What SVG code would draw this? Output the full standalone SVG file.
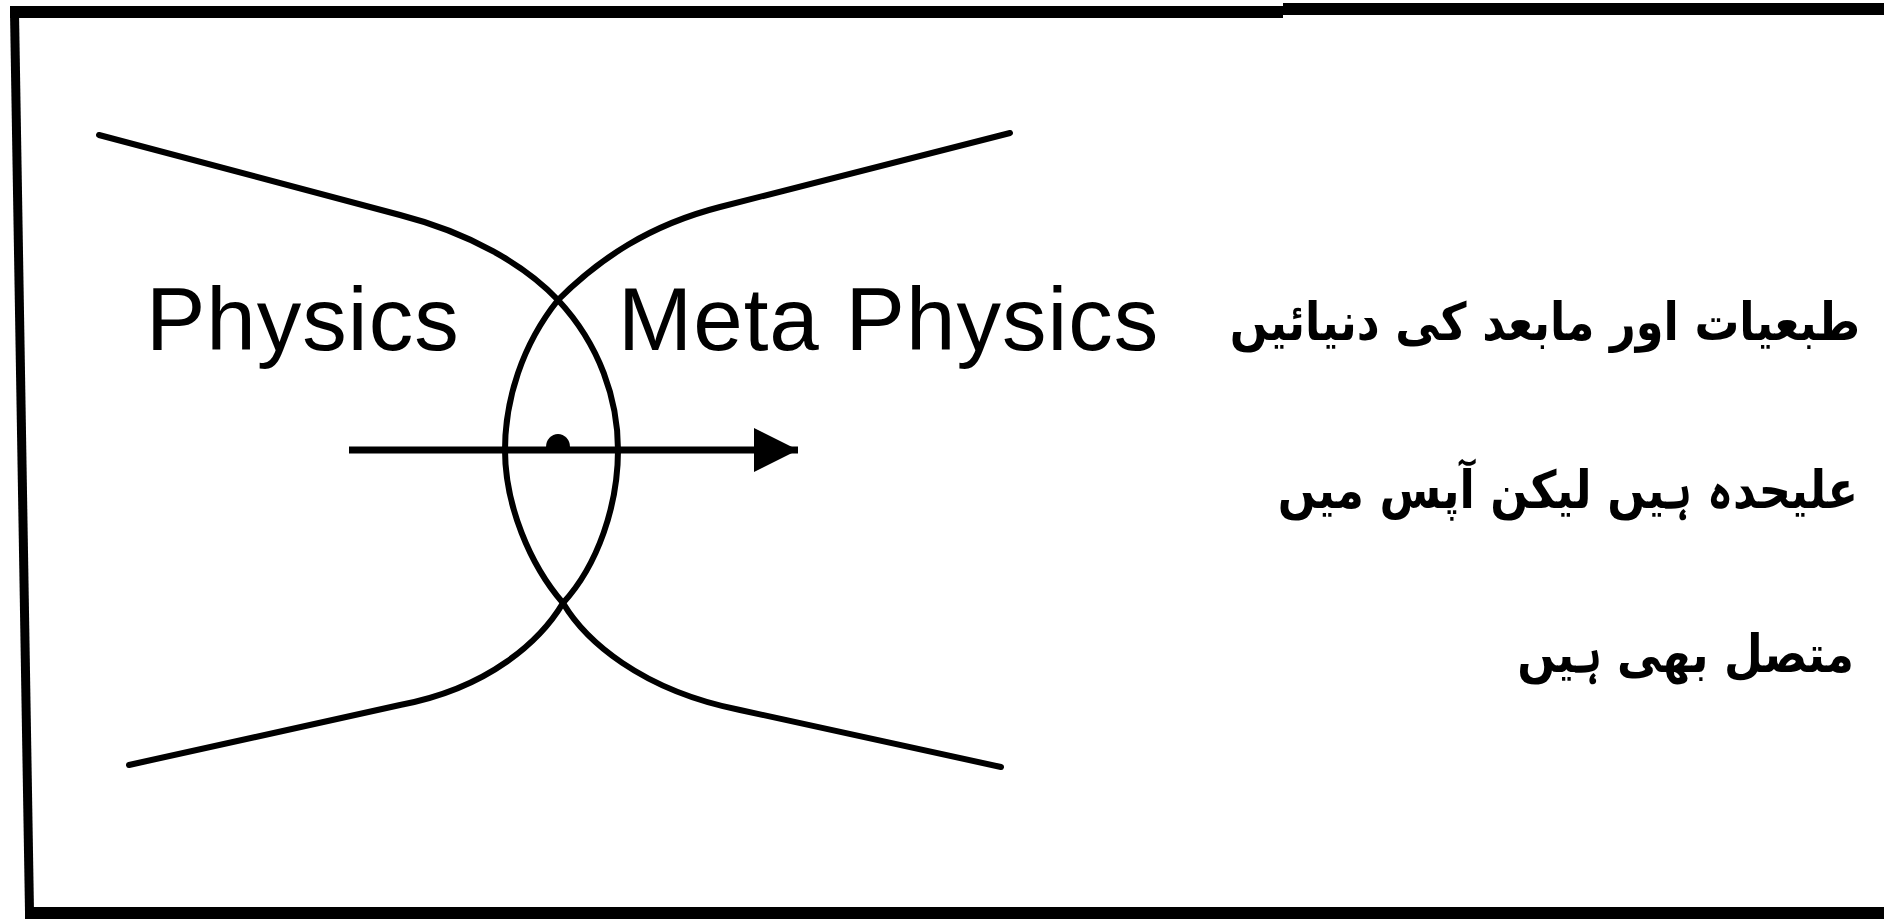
<svg xmlns="http://www.w3.org/2000/svg" width="1884" height="919" viewBox="0 0 1884 919">
  <style>
    .curve { fill: none; stroke: #000; stroke-width: 6; stroke-linecap: round; stroke-linejoin: round; }
    .arrow { fill: none; stroke: #000; stroke-width: 7; stroke-linecap: butt; }
    .lat { font-family: "Liberation Sans", Arial, sans-serif; font-size: 89px; letter-spacing: 1px; fill: #000; }
    .urdu { font-family: "DejaVu Sans", "Noto Sans", sans-serif; font-size: 52px; font-weight: bold; fill: #000; }
  </style>
  <defs>
    <marker id="head" markerUnits="userSpaceOnUse" markerWidth="46" markerHeight="44" refX="44" refY="22" orient="auto">
      <polygon points="0,0 44,22 0,44" fill="#000"/>
    </marker>
  </defs>
  <rect width="1884" height="919" fill="#fff"/>

  <g id="frame" fill="#000">
    <polygon points="10,6 1283,6 1283,3 1884,3 1884,15 1283,15 1283,18 10,18"/>
    <polygon points="10,12 19,12 34,912 25,912"/>
    <rect x="25" y="907" width="1859" height="12"/>
  </g>

  <g id="connectors">
    <path id="branch-left" class="curve" d="M 99 135 L 400 215 C 470 233, 525 265, 558 300 C 600 345, 618 400, 618 450 C 618 505, 598 565, 563 603 C 541 640, 490 688, 400 705 L 129 765"/>
    <path id="branch-right" class="curve" d="M 1010 133 L 720 207 C 650 225, 600 258, 558 300 C 522 345, 505 400, 505 450 C 505 505, 530 565, 563 603 C 585 640, 640 690, 740 710 L 1001 767"/>
    <line id="arrow" class="arrow" x1="349" y1="450" x2="798" y2="450" marker-end="url(#head)"/>
    <path id="bump" d="M 546 447 A 12 13 0 0 1 570 447 Z" fill="#000"/>
  </g>

  <g id="label-physics">
    <text class="lat" x="146" y="350">Physics</text>
  </g>
  <g id="label-meta">
    <text class="lat" x="618" y="350">Meta Physics</text>
  </g>
  <g id="label-urdu">
    <text class="urdu" transform="translate(1860 340) scale(0.86 1)" x="0" y="0" text-anchor="end">طبعیات اور مابعد کی دنیائیں</text>
    <text class="urdu" transform="translate(1858 508) scale(0.86 1)" x="0" y="0" text-anchor="end">علیحدہ ہیں لیکن آپس میں</text>
    <text class="urdu" transform="translate(1854 672) scale(0.86 1)" x="0" y="0" text-anchor="end">متصل بھی ہیں</text>
  </g>
</svg>
